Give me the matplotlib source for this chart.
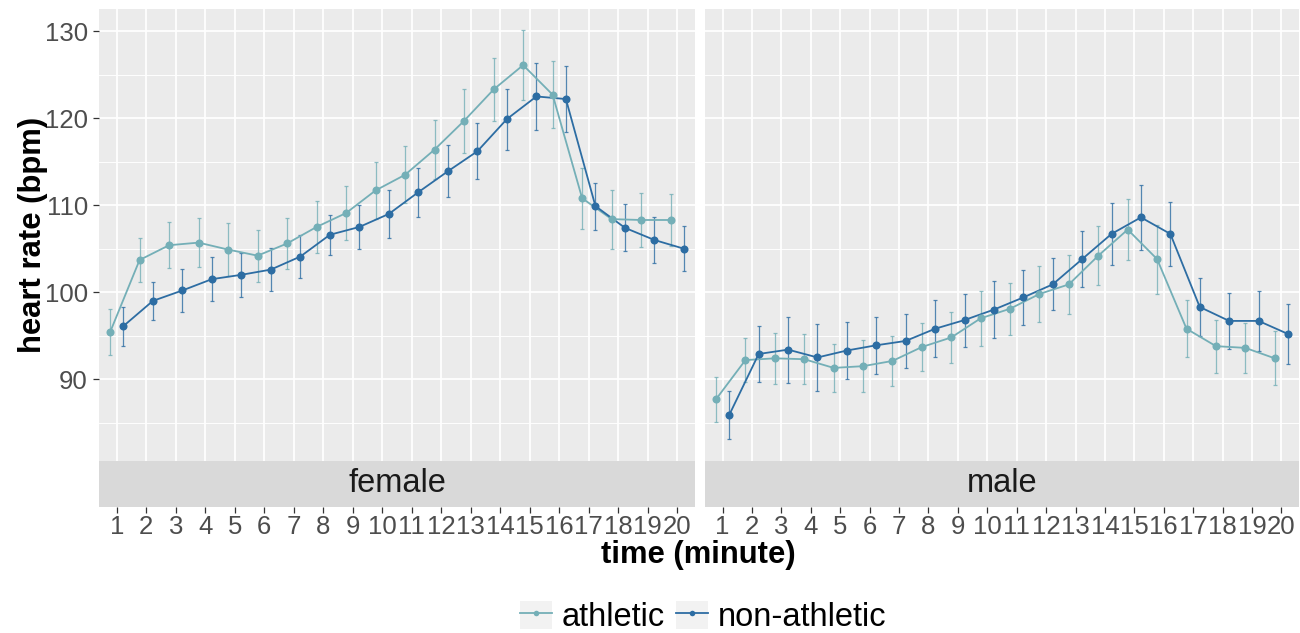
import matplotlib.pyplot as plt
from matplotlib.lines import Line2D
from matplotlib.patches import Patch
from matplotlib.legend_handler import HandlerTuple

plt.rcParams['font.family'] = ['Liberation Sans', 'DejaVu Sans']

# data (mean heart rate and error half-width)
minutes = list(range(1, 21))
groups = ['athletic', 'non-athletic']
colors = {'athletic': '#74AFB7', 'non-athletic': '#2D6DA3'}

female_athletic = [95.4, 103.7, 105.4, 105.7, 104.9, 104.2, 105.6, 107.5, 109.1, 111.7,
                   113.5, 116.4, 119.7, 123.3, 126.1, 122.7, 110.8, 108.4, 108.3, 108.3]
female_athletic_err = [2.65, 2.5, 2.65, 2.85, 3.0, 3.0, 2.95, 2.95, 3.15, 3.25,
                       3.3, 3.35, 3.7, 3.65, 4.05, 3.85, 3.5, 3.4, 3.15, 3.0]
female_nonathletic = [96.1, 99.0, 100.2, 101.5, 102.0, 102.6, 104.1, 106.6, 107.5, 109.0,
                      111.5, 113.9, 116.2, 119.9, 122.5, 122.2, 109.9, 107.4, 106.0, 105.0]
female_nonathletic_err = [2.25, 2.2, 2.5, 2.5, 2.5, 2.5, 2.45, 2.3, 2.55, 2.75,
                          2.8, 3.0, 3.2, 3.5, 3.85, 3.8, 2.7, 2.7, 2.65, 2.6]

male_athletic = [87.7, 92.2, 92.4, 92.3, 91.3, 91.5, 92.1, 93.7, 94.8, 97.0,
                 98.1, 99.8, 100.9, 104.2, 107.2, 103.8, 95.8, 93.8, 93.6, 92.4]
male_athletic_err = [2.6, 2.55, 2.9, 2.85, 2.8, 2.95, 2.9, 2.75, 2.95, 3.15,
                     3.0, 3.2, 3.35, 3.4, 3.55, 3.95, 3.3, 3.05, 2.9, 3.1]
male_nonathletic = [85.9, 92.9, 93.4, 92.5, 93.3, 93.9, 94.4, 95.8, 96.8, 98.0,
                    99.4, 100.9, 103.8, 106.7, 108.6, 106.7, 98.3, 96.7, 96.7, 95.2]
male_nonathletic_err = [2.75, 3.25, 3.8, 3.8, 3.3, 3.3, 3.1, 3.3, 3.05, 3.25,
                        3.2, 3.0, 3.25, 3.55, 3.7, 3.65, 3.35, 3.25, 3.45, 3.5]

panels = {
    'female': {'athletic': (female_athletic, female_athletic_err),
               'non-athletic': (female_nonathletic, female_nonathletic_err)},
    'male': {'athletic': (male_athletic, male_athletic_err),
             'non-athletic': (male_nonathletic, male_nonathletic_err)},
}

W, H = 1300, 633
dodge = {'athletic': -0.225, 'non-athletic': 0.225}


def px_axes(fig, left, top, right, bottom):
    return fig.add_axes([left / W, 1 - bottom / H, (right - left) / W, (bottom - top) / H])


def draw_panel(ax, data):
    # errorbars, then lines, then points (same layer order as the original)
    for g in groups:
        y, err = data[g]
        x = [m + dodge[g] for m in minutes]
        ax.errorbar(x, y, yerr=err, fmt='none', ecolor=colors[g], alpha=0.8,
                    elinewidth=0.9, capsize=1.6, capthick=0.9, zorder=2)
    for g in groups:
        y, err = data[g]
        x = [m + dodge[g] for m in minutes]
        ax.plot(x, y, color=colors[g], lw=1.3, zorder=3)
    for g in groups:
        y, err = data[g]
        x = [m + dodge[g] for m in minutes]
        ax.plot(x, y, 'o', color=colors[g], ms=5.8, mec='none', zorder=4)
    ax.set_facecolor('#EBEBEB')
    ax.set_xlim(0.4, 20.6)
    ax.set_ylim(80.6, 132.55)
    ax.set_xticks(minutes)
    ax.set_yticks([90, 100, 110, 120, 130])
    ax.set_yticks([85, 95, 105, 115, 125], minor=True)
    ax.grid(which='major', color='white', lw=1.25)
    ax.grid(which='minor', axis='y', color='white', lw=0.65)
    ax.set_axisbelow(True)
    for s in ax.spines.values():
        s.set_visible(False)
    ax.tick_params(axis='x', length=0, labelbottom=False)
    ax.tick_params(which='minor', length=0)


def draw_strip(ax, label):
    ax.set_facecolor('#D9D9D9')
    ax.set_xlim(0.4, 20.6)
    ax.set_ylim(0, 1)
    ax.set_yticks([])
    ax.set_xticks(minutes)
    ax.set_xticklabels([str(m) for m in minutes])
    ax.tick_params(axis='x', length=4, width=0.9, color='#333333', labelcolor='#4D4D4D',
                   labelsize=18.5, pad=2)
    for s in ax.spines.values():
        s.set_visible(False)
    ax.text(0.5, 0.5, label, transform=ax.transAxes, ha='center', va='center',
            fontsize=23.5, color='#1A1A1A')


fig = plt.figure(figsize=(W / 100, H / 100), dpi=100)

ax_f = px_axes(fig, 99, 9, 695, 461)
ax_m = px_axes(fig, 705, 9, 1299, 461)
st_f = px_axes(fig, 99, 461, 695, 507)
st_m = px_axes(fig, 705, 461, 1299, 507)

draw_panel(ax_f, panels['female'])
draw_panel(ax_m, panels['male'])
draw_strip(st_f, 'female')
draw_strip(st_m, 'male')

ax_f.tick_params(axis='y', length=4, width=0.9, color='#333333', labelcolor='#4D4D4D',
                 labelsize=18.5, pad=4)
ax_m.tick_params(axis='y', length=0, labelleft=False)

fig.text(33 / W, 1 - 235 / H, 'heart rate (bpm)', rotation=90, ha='center', va='center',
         fontsize=22.3, fontweight='bold')
fig.text(698 / W, 1 - 555 / H, 'time (minute)', ha='center', va='center',
         fontsize=22.3, fontweight='bold')

handles = [(Patch(facecolor='#F2F2F2', edgecolor='none'),
            Line2D([], [], color=colors[g], lw=1.3, marker='o', ms=4, mec='none'))
           for g in groups]
fig.legend(handles, groups, handler_map={tuple: HandlerTuple(ndivide=1)},
           loc='lower center', bbox_to_anchor=(703 / W, 0.0), ncol=2, frameon=False,
           fontsize=23.5, handlelength=0.98, handleheight=0.95, handletextpad=0.3,
           columnspacing=0.33, borderpad=0.0, borderaxespad=0.0)

fig.savefig('out.png', dpi=100)
